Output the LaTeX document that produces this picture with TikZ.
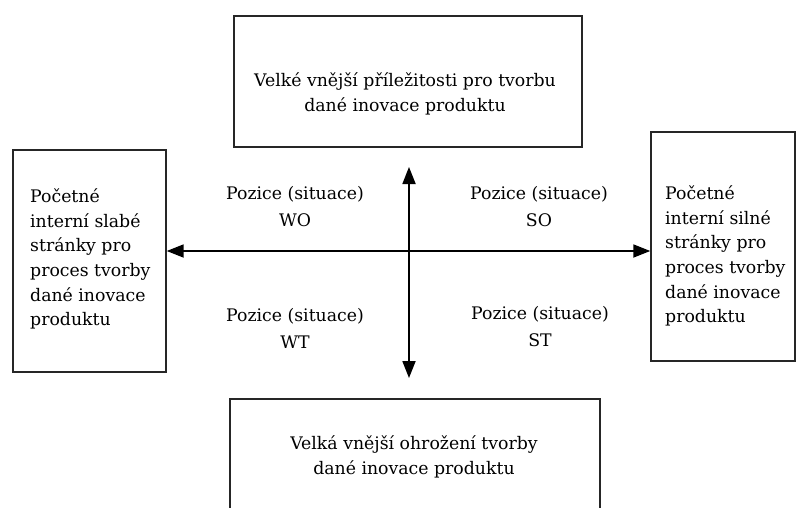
\documentclass[tikz,border=0pt]{standalone}
\usepackage{fontspec}
\setmainfont{DejaVu Serif}
\usetikzlibrary{arrows.meta, positioning, calc}

\begin{document}
\begin{tikzpicture}[
    x=1pt, y=-1pt,
    box/.style={draw=black!85, line width=1.4pt, inner sep=0pt},
    boxtext/.style={font=\fontsize{17.3}{24.6}\selectfont, inner sep=0pt},
    position/.style={font=\fontsize{17.3}{27}\selectfont, align=center, inner sep=0pt},
    axis/.style={line width=1.8pt, {Triangle[length=17pt, width=13pt]}-{Triangle[length=17pt, width=13pt]}}
]
    \clip (0,0) rectangle (798,507);
    % Frames of the four sides
    \node[box, minimum width=348pt, minimum height=131pt] (opp) at (408,81.5) {};
    \node[box, minimum width=153pt, minimum height=222pt] (weak) at (89.5,261) {};
    \node[box, minimum width=144pt, minimum height=229pt] (strong) at (723,246.5) {};
    \node[box, minimum width=370pt, minimum height=114pt] (thr) at (415,456) {};
    % Texts in the frames
    \node[boxtext, align=center] (oppText) at (405,94) {Velké vnější příležitosti pro tvorbu\\
        dané inovace produktu};
    \node[boxtext, align=center] (thrText) at (414,457) {Velká vnější ohrožení tvorby\\
        dané inovace produktu};
    \node[boxtext, align=left, anchor=west] (weakText) at (30,259) {Početné\\
        interní slabé\\stránky pro\\proces tvorby\\dané inovace\\produktu};
    \node[boxtext, align=left, anchor=west] (strongText) at (665,256) {Početné\\
        interní silné\\stránky pro\\proces tvorby\\dané inovace\\produktu};
    % Quadrant labels
    \node[position] (wo) at (295,207) {Pozice (situace)\\WO};
    \node[position] (so) at (539,207) {Pozice (situace)\\SO};
    \node[position] (wt) at (295,328) {Pozice (situace)\\WT};
    \node[position] (st) at (540,327) {Pozice (situace)\\ST};
    % Axes
    \coordinate (cross) at (409,251);
    \coordinate (upTip) at (409,167);
    \coordinate (downTip) at (409,378);
    \draw[axis] (cross -| weak.east) -- (cross -| strong.west);
    \draw[axis] (downTip) -- (upTip);
\end{tikzpicture}
\end{document}
